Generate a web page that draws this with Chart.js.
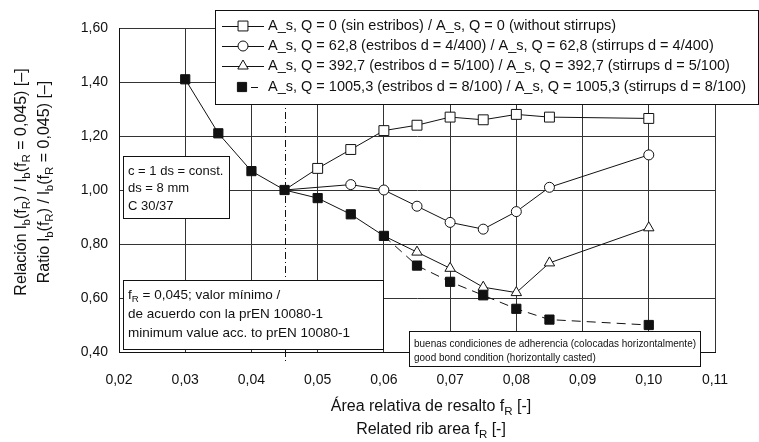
<!DOCTYPE html>
<html>
<head>
<meta charset="utf-8">
<script src="https://cdn.jsdelivr.net/npm/chart.js@4.4.1/dist/chart.umd.min.js"></script>
<style>
  html, body { margin: 0; padding: 0; background: #fff; }
</style>
</head>
<body>
<canvas id="chart" width="759" height="442"></canvas>
<script>
// f_R values and ratio l_b(f_R) / l_b(f_R = 0,045) for each stirrup arrangement
const frNoStirrups = [0.045, 0.05, 0.055, 0.06, 0.065, 0.07, 0.075, 0.08, 0.085, 0.10];
const ratioNoStirrups = [1.00, 1.08, 1.15, 1.22, 1.24, 1.27, 1.26, 1.28, 1.27, 1.265];

const frQ628 = [0.045, 0.055, 0.06, 0.065, 0.07, 0.075, 0.08, 0.085, 0.10];
const ratioQ628 = [1.00, 1.02, 1.00, 0.94, 0.88, 0.855, 0.92, 1.01, 1.13];

const frQ3927 = [0.06, 0.065, 0.07, 0.075, 0.08, 0.085, 0.10];
const ratioQ3927 = [0.83, 0.77, 0.71, 0.64, 0.62, 0.73, 0.86];

const frQ10053 = [0.03, 0.035, 0.04, 0.045, 0.05, 0.055, 0.06, 0.065, 0.07, 0.075, 0.08, 0.085, 0.10];
const ratioQ10053 = [1.41, 1.21, 1.07, 1.00, 0.97, 0.91, 0.83, 0.72, 0.66, 0.61, 0.56, 0.52, 0.50];

const seriesLabels = [
  'A_s, Q = 0 (sin estribos) / A_s, Q = 0 (without stirrups)',
  'A_s, Q = 62,8 (estribos d = 4/400) / A_s, Q = 62,8 (stirrups d = 4/400)',
  'A_s, Q = 392,7 (estribos d = 5/100) / A_s, Q = 392,7 (stirrups d = 5/100)',
  'A_s, Q = 1005,3 (estribos d = 8/100) / A_s, Q = 1005,3 (stirrups d = 8/100)',
];

const xTickValues = [0.02, 0.03, 0.04, 0.05, 0.06, 0.07, 0.08, 0.09, 0.10, 0.11];
const yTickValues = [0.40, 0.60, 0.80, 1.00, 1.20, 1.40, 1.60];

const minFr = 0.045; // minimum value acc. to prEN 10080-1

const yTitle = [
  'Relación l_{b}(f_{R}) / l_{b}(f_{R} = 0,045) [–]',
  'Ratio l_{b}(f_{R}) / l_{b}(f_{R} = 0,045) [–]',
];
const xTitle = ['Área relativa de resalto f_{R} [-]', 'Related rib area f_{R} [-]'];

const noteConcrete = ['c = 1 ds = const.', 'ds = 8 mm', 'C 30/37'];
const noteMinimum = [
  'f_{R} = 0,045; valor mínimo /',
  'de acuerdo con la prEN 10080-1',
  'minimum value acc. to prEN 10080-1',
];
const noteBond = [
  'buenas condiciones de adherencia (colocadas horizontalmente)',
  'good bond condition (horizontally casted)',
];

const FONT = '"Liberation Sans", Arial, Helvetica, sans-serif';
const INK = '#111';

const toPoints = (xs, ys) => xs.map((x, i) => ({ x, y: ys[i] }));
const comma = (v) => Number(v).toFixed(2).replace('.', ',');

// split "f_{R}" style strings into normal / subscript runs
function parseRich(str) {
  const parts = [];
  const re = /_\{([^}]*)\}/g;
  let last = 0;
  let m;
  while ((m = re.exec(str))) {
    if (m.index > last) parts.push({ t: str.slice(last, m.index), sub: false });
    parts.push({ t: m[1], sub: true });
    last = re.lastIndex;
  }
  if (last < str.length) parts.push({ t: str.slice(last), sub: false });
  return parts;
}

function richWidth(ctx, str, size) {
  let w = 0;
  parseRich(str).forEach((p) => {
    ctx.font = `${p.sub ? size * 0.72 : size}px ${FONT}`;
    w += ctx.measureText(p.t).width;
  });
  return w;
}

// draws text starting at x (left aligned), vertically centred on y, squeezed by k
function drawRich(ctx, str, x, y, size, k = 1) {
  ctx.save();
  ctx.translate(x, y);
  ctx.scale(k, 1);
  ctx.textBaseline = 'middle';
  ctx.textAlign = 'left';
  let cx = 0;
  parseRich(str).forEach((p) => {
    const s = p.sub ? size * 0.72 : size;
    ctx.font = `${s}px ${FONT}`;
    ctx.fillText(p.t, cx, p.sub ? size * 0.32 : 0);
    cx += ctx.measureText(p.t).width;
  });
  ctx.restore();
}

function drawCentred(ctx, str, cx, y, size) {
  drawRich(ctx, str, cx - richWidth(ctx, str, size) / 2, y, size);
}

function drawBox(ctx, l, t, r, b) {
  ctx.save();
  ctx.fillStyle = '#fff';
  ctx.strokeStyle = INK;
  ctx.lineWidth = 1;
  ctx.fillRect(l, t, r - l, b - t);
  ctx.strokeRect(l + 0.5, t + 0.5, r - l - 1, b - t - 1);
  ctx.restore();
}

function drawNote(ctx, lines, box, size, rows, maxW) {
  drawBox(ctx, box[0], box[1], box[2], box[3]);
  const widest = Math.max(...lines.map((s) => richWidth(ctx, s, size)));
  const k = maxW ? Math.min(1, maxW / widest) : 1;
  ctx.fillStyle = INK;
  lines.forEach((s, i) => drawRich(ctx, s, box[0] + 5, rows[i], size, k));
}

const figureText = {
  id: 'figureText',
  beforeDatasetsDraw(chart) {
    const { ctx, chartArea } = chart;
    const x = Math.round(chart.scales.x.getPixelForValue(minFr)) + 0.5;
    ctx.save();
    ctx.strokeStyle = INK;
    ctx.lineWidth = 1;
    ctx.setLineDash([7, 3, 1, 3]);
    ctx.beginPath();
    ctx.moveTo(x, chartArea.top);
    ctx.lineTo(x, chartArea.bottom + 12);
    ctx.stroke();
    ctx.restore();
  },
  afterDraw(chart) {
    const { ctx, chartArea } = chart;
    ctx.save();
    ctx.fillStyle = INK;

    // axis titles
    ctx.save();
    ctx.translate(0, 182);
    ctx.rotate(-Math.PI / 2);
    drawCentred(ctx, yTitle[0], 0, 22, 16);
    drawCentred(ctx, yTitle[1], 0, 45, 16);
    ctx.restore();
    const midX = (chartArea.left + chartArea.right) / 2 + 14;
    drawCentred(ctx, xTitle[0], midX, 407, 16);
    drawCentred(ctx, xTitle[1], midX, 430, 16);

    // notes inside the plot
    drawNote(ctx, noteConcrete, [123, 156, 230, 219], 13, [171, 188, 206]);
    drawNote(ctx, noteMinimum, [123, 280, 384, 350], 13.5, [295, 314, 333]);
    drawNote(ctx, noteBond, [409, 331, 701, 367], 11, [344, 358], 282);

    // legend
    drawBox(ctx, 215, 10, 759, 105);
    const rows = [26, 46, 66, 87];
    chart.data.datasets.forEach((ds, i) => {
      const y = rows[i];
      ctx.save();
      ctx.strokeStyle = INK;
      ctx.lineWidth = 1;
      const mx = i === 3 ? 242 : 243;
      ctx.beginPath();
      if (i === 3) {
        ctx.moveTo(251, y + 0.5);
        ctx.lineTo(258, y + 0.5);
      } else {
        ctx.moveTo(222, y + 0.5);
        ctx.lineTo(264, y + 0.5);
      }
      ctx.stroke();
      ctx.fillStyle = ds.pointBackgroundColor;
      Chart.helpers.drawPoint(ctx, {
        pointStyle: ds.pointStyle,
        radius: ds.legendRadius,
        borderWidth: 1,
        rotation: 0,
      }, mx, y);
      ctx.restore();
      drawRich(ctx, seriesLabels[i], 268, y, 14.5, Math.min(1, 486 / richWidth(ctx, seriesLabels[3], 14.5)));
    });
    ctx.restore();
  },
};

const lineStyle = {
  borderColor: INK,
  borderWidth: 1,
  pointBorderColor: INK,
  pointBorderWidth: 1,
  tension: 0,
  fill: false,
};

new Chart(document.getElementById('chart'), {
  type: 'line',
  data: {
    datasets: [
      {
        ...lineStyle,
        label: seriesLabels[0],
        data: toPoints(frNoStirrups, ratioNoStirrups),
        pointStyle: 'rect',
        pointBackgroundColor: '#fff',
        pointRadius: (c) => (c.dataIndex === 0 ? 0 : 7),
        legendRadius: 7,
        order: 1,
      },
      {
        ...lineStyle,
        label: seriesLabels[1],
        data: toPoints(frQ628, ratioQ628),
        pointStyle: 'circle',
        pointBackgroundColor: '#fff',
        pointRadius: (c) => (c.dataIndex === 0 ? 0 : 5),
        legendRadius: 5,
        order: 1,
      },
      {
        ...lineStyle,
        label: seriesLabels[2],
        data: toPoints(frQ3927, ratioQ3927),
        pointStyle: 'triangle',
        pointBackgroundColor: '#fff',
        pointRadius: (c) => (c.dataIndex === 0 ? 0 : 6),
        legendRadius: 6,
        order: 1,
      },
      {
        ...lineStyle,
        label: seriesLabels[3],
        data: toPoints(frQ10053, ratioQ10053),
        pointStyle: 'rect',
        pointBackgroundColor: INK,
        pointRadius: 6.5,
        legendRadius: 6.5,
        segment: {
          borderDash: (c) => (c.p0.parsed.x > 0.0599 ? [9, 6] : undefined),
        },
        order: 0,
      },
    ],
  },
  options: {
    responsive: false,
    devicePixelRatio: 1,
    animation: false,
    layout: { padding: { top: 28, right: 44, left: 0, bottom: 0 } },
    plugins: {
      legend: { display: false },
      tooltip: { enabled: false },
    },
    scales: {
      x: {
        type: 'linear',
        min: 0.02,
        max: 0.11,
        afterBuildTicks: (s) => { s.ticks = xTickValues.map((value) => ({ value })); },
        afterFit: (s) => { s.height = 90; },
        ticks: {
          callback: comma,
          autoSkip: false,
          maxRotation: 0,
          padding: 20,
          color: INK,
          font: { family: FONT, size: 14 },
        },
        grid: { color: '#333', lineWidth: 1, drawTicks: false },
        border: { color: INK, width: 1 },
      },
      y: {
        type: 'linear',
        min: 0.4,
        max: 1.6,
        afterBuildTicks: (s) => { s.ticks = yTickValues.map((value) => ({ value })); },
        afterFit: (s) => { s.width = 119; },
        ticks: {
          callback: comma,
          padding: 11,
          color: INK,
          font: { family: FONT, size: 14 },
        },
        grid: { color: '#333', lineWidth: 1, drawTicks: false },
        border: { color: INK, width: 1 },
      },
    },
  },
  plugins: [figureText],
});
</script>
</body>
</html>
